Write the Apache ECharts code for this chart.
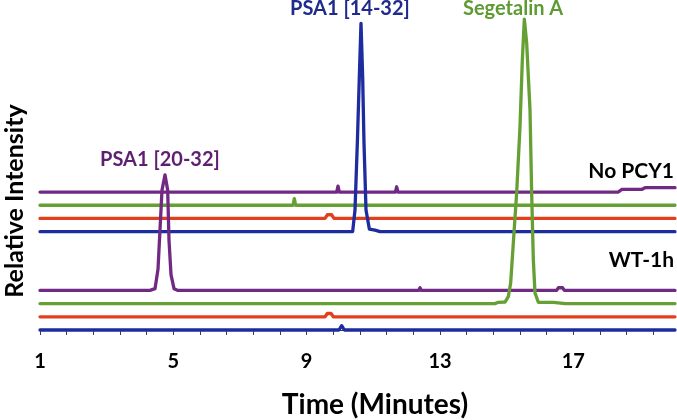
<!DOCTYPE html>
<html><head><meta charset="utf-8">
<script src="https://cdn.jsdelivr.net/npm/echarts@6/dist/echarts.min.js"></script>
<style>html,body{margin:0;padding:0;background:#fff}#c{width:677px;height:420px}</style>
</head><body><div id="c"></div><script>
// ---- axis ----
const xMin = 1, xMax = 20.05, tickStep = 0.8;
const tickLabels = [1, 5, 9, 13, 17];
const yMin = 0, yMax = 24;

// ---- traces (time in minutes, relative intensity above each trace's own baseline) ----
const traceOffsets = [10.45, 9.45, 8.45, 7.45, 3, 2, 1, 0];
const traceColors = ['#712a84', '#66a034', '#e2401c', '#1d2c9e', '#712a84', '#66a034', '#e2401c', '#1d2c9e'];

// No PCY1 group
const purpleTopPoints = [[18.35, 0], [18.45, 0.2], [19.05, 0.2], [19.15, 0.33], [20.05, 0.33]];
const purpleTopBlips = [[9.94, 0.45], [11.70, 0.4], [13.75, 0.15]];
const greenTopPoints = [];
const greenTopBlips = [[8.08, 0.15], [8.63, 0.5], [9.45, 0.15], [9.5, 0.15], [10.75, 0.12], [10.9, 0.12], [11.1, 0.12], [12.8, 0.1], [14.4, 0.15], [14.7, 0.15], [16.6, 0.12], [17.8, 0.15], [18.55, 0.12]];
const redTopPoints = [[9.55, 0], [9.62, 0.28], [9.75, 0.28], [9.82, 0]];
const redTopBlips = [[11.2, 0.12], [12.25, 0.12], [13.66, 0.12], [13.84, 0.12], [14.02, 0.12], [14.2, 0.12], [15.01, 0.12], [15.31, 0.12], [15.61, 0.12], [15.79, 0.12], [16.0, 0.15], [16.21, 0.15], [16.39, 0.12], [16.81, 0.12], [17.2, 0.12], [17.59, 0.12], [17.8, 0.12], [18.0, 0.12], [18.2, 0.12], [18.4, 0.12], [18.6, 0.12], [18.8, 0.12], [19.0, 0.12], [19.2, 0.12], [19.4, 0.12], [19.6, 0.12], [19.8, 0.12], [19.97, 0.12]];
const blueTopPoints = [[10.38, 0], [10.40, 0.15], [10.45, 1.64], [10.52, 6.72], [10.58, 11.74], [10.63, 15.78], [10.68, 11.74], [10.72, 6.72], [10.78, 1.64], [10.88, 0.2], [11.05, 0.12], [11.2, 0]];
const blueTopBlips = [[12.25, 0.15], [18.0, 0.1]];

// WT-1h group
const purpleBotPoints = [[4.30, 0], [4.45, 0.13], [4.54, 1.6], [4.60, 4.6], [4.66, 7.6], [4.75, 8.75], [4.83, 7.6], [4.87, 3.8], [4.93, 1.2], [5.02, 0.13], [5.14, 0], [16.5, 0], [16.55, 0.2], [16.68, 0.2], [16.73, 0]];
const purpleBotBlips = [[2.05, 0.1], [3.04, 0.1], [5.41, 0.12], [6.16, 0.1], [6.79, 0.1], [7.51, 0.1], [8.5, 0.1], [9.19, 0.1], [9.94, 0.1], [10.55, 0.1], [11.55, 0.1], [12.15, 0.1], [12.4, 0.2], [12.75, 0.1], [13.65, 0.1], [15.4, 0.1], [18.9, 0.1], [19.15, 0.12], [19.6, 0.1], [19.9, 0.1]];
const greenBotPoints = [[14.65, 0], [14.75, 0.1], [14.95, 0.12], [15.05, 0.53], [15.12, 1.57], [15.20, 4.6], [15.30, 8.39], [15.40, 13.41], [15.47, 18.46], [15.53, 21.55], [15.60, 19.75], [15.65, 19.6], [15.70, 14.68], [15.75, 8.39], [15.80, 3.31], [15.85, 0.81], [15.95, 0.1], [16.4, 0.1], [16.45, 0]];
const greenBotBlips = [[7.78, 0.15], [11.6, 0.1], [11.9, 0.1], [12.15, 0.1], [12.45, 0.1], [12.8, 0.1], [13.45, 0.1], [16.8, 0.1], [17.6, 0.1], [17.9, 0.1], [18.94, 0.1]];
const redBotPoints = [[9.55, 0], [9.62, 0.25], [9.73, 0.25], [9.8, 0]];
const redBotBlips = [[10.5, 0.12], [11.2, 0.12], [12.3, 0.12], [13.6, 0.12], [13.8, 0.12], [14.0, 0.12], [14.7, 0.12], [14.85, 0.12], [15.0, 0.12], [15.2, 0.12], [15.4, 0.12], [15.6, 0.15], [15.75, 0.15], [15.9, 0.15], [16.1, 0.12], [16.3, 0.12], [16.55, 0.12], [16.8, 0.12], [17.05, 0.12], [17.3, 0.12], [17.5, 0.12], [17.7, 0.12], [17.9, 0.12], [18.1, 0.12], [18.3, 0.15], [18.5, 0.12], [18.7, 0.12], [18.9, 0.12], [19.1, 0.15], [19.3, 0.12], [19.5, 0.12], [19.7, 0.12], [19.9, 0.12]];
const blueBotPoints = [[9.97, 0], [10.05, 0.33], [10.13, 0]];
const blueBotBlips = [];

const tracePoints = [purpleTopPoints, greenTopPoints, redTopPoints, blueTopPoints, purpleBotPoints, greenBotPoints, redBotPoints, blueBotPoints];
const traceBlips = [purpleTopBlips, greenTopBlips, redTopBlips, blueTopBlips, purpleBotBlips, greenBotBlips, redBotBlips, blueBotBlips];

// ---- text ----
const peakLabels = ['PSA1 [20-32]', 'PSA1 [14-32]', 'Segetalin A'];
const groupLabels = ['No PCY1', 'WT-1h'];
const xTitle = 'Time (Minutes)';
const yTitle = 'Relative Intensity';

function buildTrace(points, blips, offset) {
  const hw = 0.04;
  let pts = [[xMin, 0]];
  blips.forEach(([t, a]) => { pts.push([t - hw, 0], [t, a], [t + hw, 0]); });
  pts = pts.concat(points);
  pts.sort((a, b) => a[0] - b[0]);
  if (pts[pts.length - 1][0] < xMax) pts.push([xMax, 0]);
  return pts.map(([t, v]) => [t, v + offset]);
}

const tickValues = [];
for (let k = 0; xMin + k * tickStep <= xMax + 1e-9; k++) tickValues.push(+(xMin + k * tickStep).toFixed(4));

const FONT = 'Lato';
const series = tracePoints.map((p, i) => ({
  type: 'line', data: buildTrace(p, traceBlips[i], traceOffsets[i]),
  showSymbol: false, clip: false, silent: true,
  lineStyle: { width: 3.3, color: traceColors[i], join: 'round', cap: 'round' },
  itemStyle: { color: traceColors[i] }, z: 2 + i
}));

const chart = echarts.init(document.getElementById('c'), null, { renderer: 'canvas' });
chart.setOption({
  animation: false,
  backgroundColor: '#fff',
  grid: { left: 40, right: 2, top: 13.2, bottom: 90, containLabel: false },
  xAxis: {
    type: 'value', min: xMin, max: xMax,
    axisLine: { show: true, lineStyle: { color: '#404040', width: 1 } },
    axisTick: { show: true, length: 5, lineStyle: { color: '#404040', width: 1 }, customValues: tickValues },
    axisLabel: { customValues: tickLabels, margin: 22, fontFamily: FONT, fontWeight: 'bold', fontSize: 20, color: '#000' },
    splitLine: { show: false }
  },
  yAxis: {
    type: 'value', min: yMin, max: yMax,
    axisLine: { show: false }, axisTick: { show: false }, axisLabel: { show: false }, splitLine: { show: false }
  },
  series: series,
  graphic: [
    { type: 'text', left: 100, top: 150, style: { text: peakLabels[0], fill: '#5e1f70', font: 'bold 20px ' + FONT } },
    { type: 'text', left: 290, top: -1, style: { text: peakLabels[1], fill: '#1f2a8c', font: 'bold 20px ' + FONT } },
    { type: 'text', left: 463, top: -1, style: { text: peakLabels[2], fill: '#5e9a32', font: 'bold 20px ' + FONT } },
    { type: 'text', right: 3, top: 161, style: { text: groupLabels[0], fill: '#000', font: 'bold 21px ' + FONT } },
    { type: 'text', right: 3, top: 250, style: { text: groupLabels[1], fill: '#000', font: 'bold 21px ' + FONT } },
    { type: 'text', x: 375, y: 405, style: { text: xTitle, fill: '#000', font: 'bold 28px ' + FONT, textAlign: 'center', textVerticalAlign: 'middle' } },
    { type: 'text', x: 15, y: 201, rotation: Math.PI / 2, style: { text: yTitle, fill: '#000', font: 'bold 25px ' + FONT, textAlign: 'center', textVerticalAlign: 'middle' } }
  ]
});
</script></body></html>
